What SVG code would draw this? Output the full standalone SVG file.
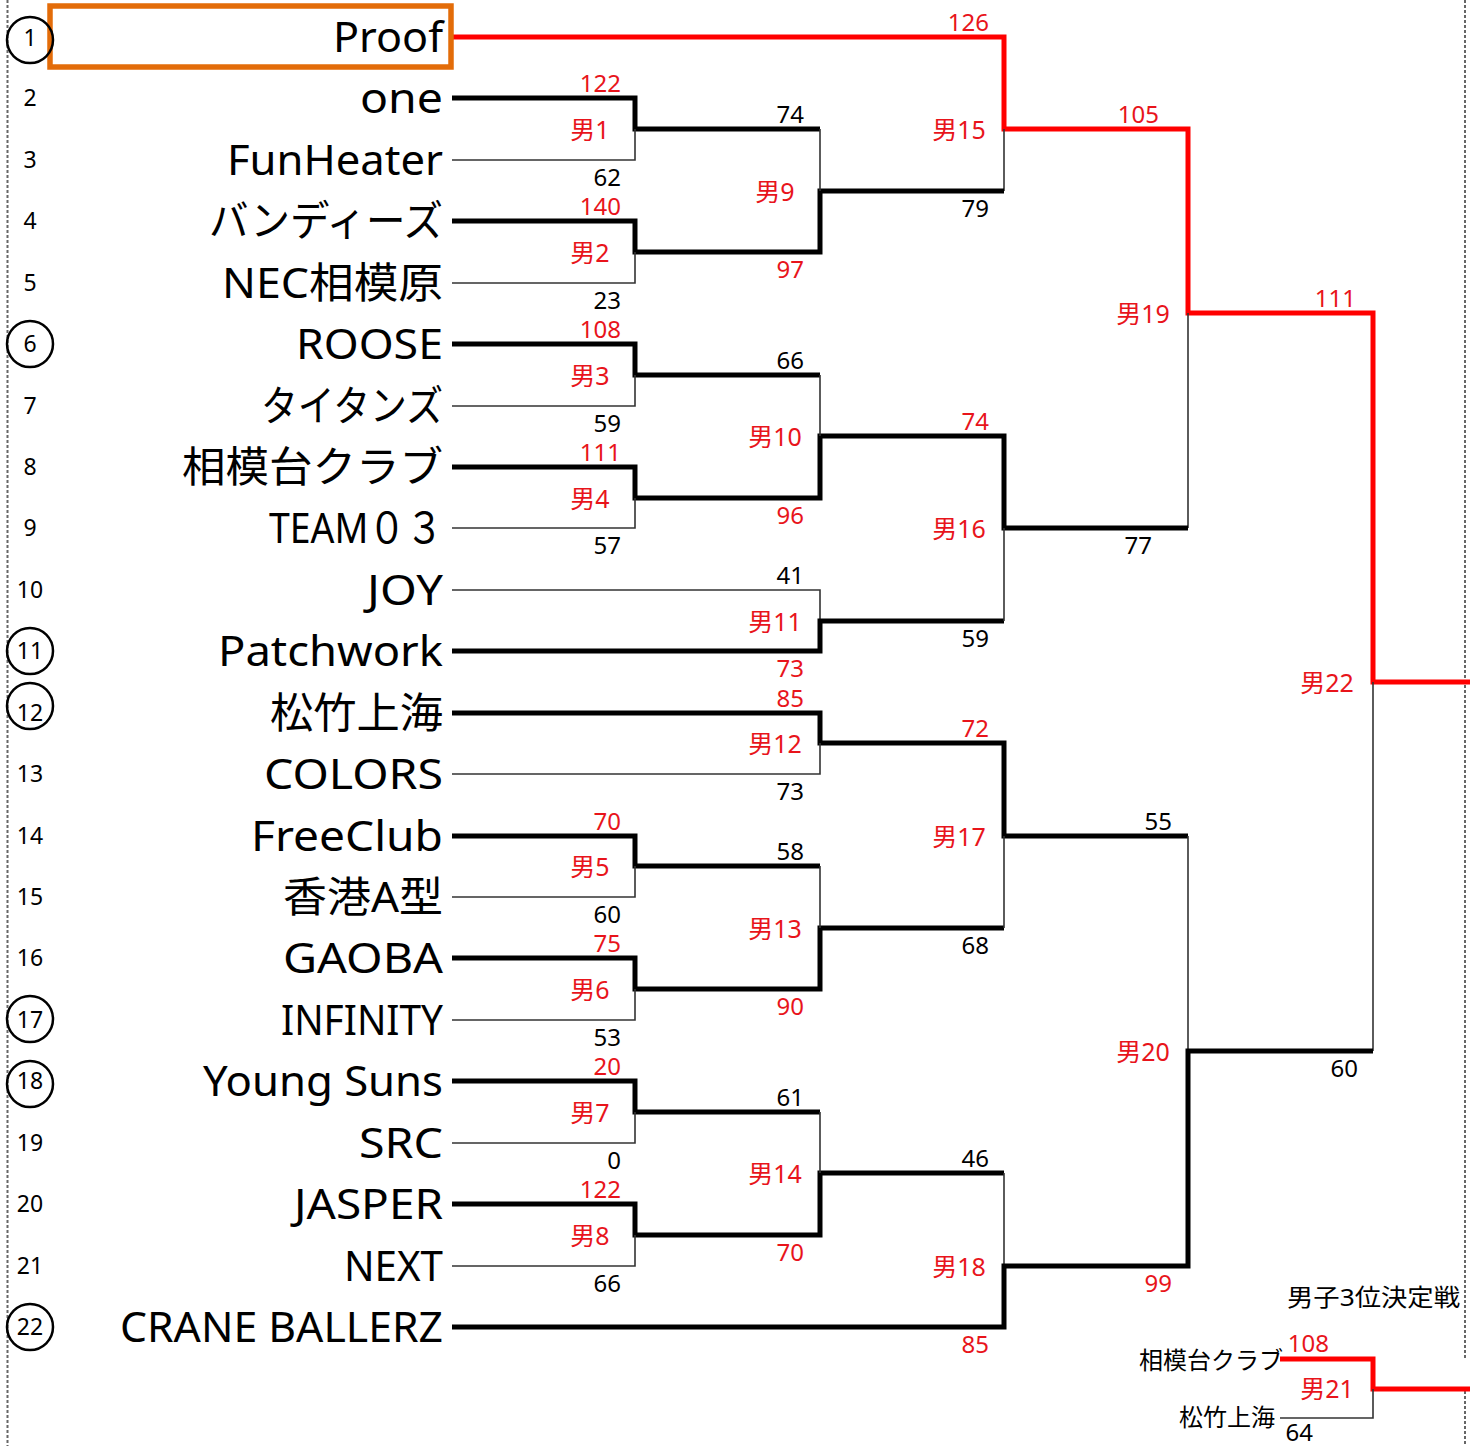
<svg xmlns="http://www.w3.org/2000/svg" width="1478" height="1446" viewBox="0 0 1478 1446">
<style>
text{font-family:"Noto Sans","Noto Sans CJK JP",sans-serif}
.team{font-size:42px;fill:#000;text-anchor:end}
.seed{font-size:23px;fill:#000;text-anchor:middle}
.sc{font-size:24px;text-anchor:end}
.red{fill:#e8141b}
.blk{fill:#000}
.ml{font-size:25px;fill:#e8141b;text-anchor:middle}
.w{fill:none;stroke:#000;stroke-width:5;stroke-linejoin:miter}
.l{fill:none;stroke:#333;stroke-width:1.6}
.r{fill:none;stroke:#ff0000;stroke-width:5;stroke-linejoin:miter}
.ring{fill:none;stroke:#000;stroke-width:2.5}
.border{stroke:#666;stroke-width:2;stroke-dasharray:3 2}
.small{font-size:24px;fill:#000}
</style>
<rect width="1478" height="1446" fill="#fff"/>
<g id="borders">
<line class="border" x1="7.5" y1="0" x2="7.5" y2="1446"/>
<line class="border" x1="1465" y1="0" x2="1465" y2="1358"/>
<line class="border" x1="1465" y1="1391" x2="1465" y2="1446"/>
</g>
<g id="connectors">
<path class="r" d="M452,37 H1004 V129 H1188 V313 H1373 V682 H1470"/>
<path class="l" d="M1004,129 V191"/>
<path class="l" d="M1188,313 V528"/>
<path class="l" d="M1373,682 V1051"/>
<path class="w" d="M452,98 H635 V129 H820"/>
<path class="l" d="M452,160 H635 V129"/>
<path class="w" d="M452,221 H635 V252 H820 V191 H1004"/>
<path class="l" d="M452,283 H635 V252"/>
<path class="l" d="M820,129 V191"/>
<path class="w" d="M452,344 H635 V375 H820"/>
<path class="l" d="M452,406 H635 V375"/>
<path class="w" d="M452,467 H635 V498 H820 V436 H1004 V528 H1188"/>
<path class="l" d="M452,528 H635 V498"/>
<path class="l" d="M820,375 V436"/>
<path class="l" d="M452,590 H820 V621"/>
<path class="w" d="M452,651 H820 V621 H1004"/>
<path class="l" d="M1004,621 V528"/>
<path class="w" d="M452,713 H820 V743 H1004 V836 H1188"/>
<path class="l" d="M452,774 H820 V743"/>
<path class="w" d="M452,836 H635 V866 H820"/>
<path class="l" d="M452,897 H635 V866"/>
<path class="w" d="M452,958 H635 V989 H820 V928 H1004"/>
<path class="l" d="M452,1020 H635 V989"/>
<path class="l" d="M820,866 V928"/>
<path class="l" d="M1004,928 V836"/>
<path class="l" d="M1188,836 V1051"/>
<path class="w" d="M452,1081 H635 V1112 H820"/>
<path class="l" d="M452,1143 H635 V1112"/>
<path class="w" d="M452,1204 H635 V1235 H820 V1173 H1004"/>
<path class="l" d="M452,1266 H635 V1235"/>
<path class="l" d="M820,1112 V1173"/>
<path class="l" d="M1004,1173 V1266"/>
<path class="w" d="M452,1327 H1004 V1266 H1188 V1051 H1373"/>
<path class="r" d="M1280,1359 H1373 V1389 H1470"/>
<path class="l" d="M1280,1418 H1373 V1389"/>
</g>
<g id="team1"><rect x="50" y="6" width="401" height="61" fill="none" stroke="#e36c09" stroke-width="5.5"/><circle class="ring" cx="30" cy="40" r="23"/><text class="seed" x="30" y="46">1</text><text class="team" x="443" y="52" textLength="110" lengthAdjust="spacingAndGlyphs">Proof</text></g>
<g id="team2"><text class="seed" x="30" y="106">2</text><text class="team" x="443" y="113" textLength="83" lengthAdjust="spacingAndGlyphs">one</text></g>
<g id="team3"><text class="seed" x="30" y="168">3</text><text class="team" x="443" y="175" textLength="216" lengthAdjust="spacingAndGlyphs">FunHeater</text></g>
<g id="team4"><text class="seed" x="30" y="229">4</text><text class="team" x="443" y="236" textLength="234" lengthAdjust="spacingAndGlyphs">バンディーズ</text></g>
<g id="team5"><text class="seed" x="30" y="291">5</text><text class="team" x="443" y="298" textLength="221" lengthAdjust="spacingAndGlyphs">NEC相模原</text></g>
<g id="team6"><circle class="ring" cx="30" cy="344" r="23"/><text class="seed" x="30" y="352">6</text><text class="team" x="443" y="359" textLength="147" lengthAdjust="spacingAndGlyphs">ROOSE</text></g>
<g id="team7"><text class="seed" x="30" y="414">7</text><text class="team" x="443" y="421" textLength="182" lengthAdjust="spacingAndGlyphs">タイタンズ</text></g>
<g id="team8"><text class="seed" x="30" y="475">8</text><text class="team" x="443" y="482" textLength="261" lengthAdjust="spacingAndGlyphs">相模台クラブ</text></g>
<g id="team9"><text class="seed" x="30" y="536">9</text><text class="team" x="443" y="543" textLength="174" lengthAdjust="spacingAndGlyphs">TEAM０３</text></g>
<g id="team10"><text class="seed" x="30" y="598">10</text><text class="team" x="443" y="605" textLength="76" lengthAdjust="spacingAndGlyphs">JOY</text></g>
<g id="team11"><circle class="ring" cx="30" cy="651" r="23"/><text class="seed" x="30" y="659">11</text><text class="team" x="443" y="666" textLength="225" lengthAdjust="spacingAndGlyphs">Patchwork</text></g>
<g id="team12"><circle class="ring" cx="30" cy="706" r="23"/><text class="seed" x="30" y="721">12</text><text class="team" x="443" y="728" textLength="173" lengthAdjust="spacingAndGlyphs">松竹上海</text></g>
<g id="team13"><text class="seed" x="30" y="782">13</text><text class="team" x="443" y="789" textLength="179" lengthAdjust="spacingAndGlyphs">COLORS</text></g>
<g id="team14"><text class="seed" x="30" y="844">14</text><text class="team" x="443" y="851" textLength="192" lengthAdjust="spacingAndGlyphs">FreeClub</text></g>
<g id="team15"><text class="seed" x="30" y="905">15</text><text class="team" x="443" y="912" textLength="160" lengthAdjust="spacingAndGlyphs">香港A型</text></g>
<g id="team16"><text class="seed" x="30" y="966">16</text><text class="team" x="443" y="973" textLength="160" lengthAdjust="spacingAndGlyphs">GAOBA</text></g>
<g id="team17"><circle class="ring" cx="30" cy="1019" r="23"/><text class="seed" x="30" y="1028">17</text><text class="team" x="443" y="1035" textLength="162" lengthAdjust="spacingAndGlyphs">INFINITY</text></g>
<g id="team18"><circle class="ring" cx="30" cy="1084" r="23"/><text class="seed" x="30" y="1089">18</text><text class="team" x="443" y="1096" textLength="240" lengthAdjust="spacingAndGlyphs">Young Suns</text></g>
<g id="team19"><text class="seed" x="30" y="1151">19</text><text class="team" x="443" y="1158" textLength="84" lengthAdjust="spacingAndGlyphs">SRC</text></g>
<g id="team20"><text class="seed" x="30" y="1212">20</text><text class="team" x="443" y="1219" textLength="149" lengthAdjust="spacingAndGlyphs">JASPER</text></g>
<g id="team21"><text class="seed" x="30" y="1274">21</text><text class="team" x="443" y="1281" textLength="99" lengthAdjust="spacingAndGlyphs">NEXT</text></g>
<g id="team22"><circle class="ring" cx="30" cy="1327" r="23"/><text class="seed" x="30" y="1335">22</text><text class="team" x="443" y="1342" textLength="323" lengthAdjust="spacingAndGlyphs">CRANE BALLERZ</text></g>
<g id="scores">
<text class="sc red" x="621" y="92">122</text><text class="sc blk" x="621" y="186">62</text>
<text class="sc red" x="621" y="215">140</text><text class="sc blk" x="621" y="309">23</text>
<text class="sc red" x="621" y="338">108</text><text class="sc blk" x="621" y="432">59</text>
<text class="sc red" x="621" y="461">111</text><text class="sc blk" x="621" y="554">57</text>
<text class="sc red" x="621" y="830">70</text><text class="sc blk" x="621" y="923">60</text>
<text class="sc red" x="621" y="952">75</text><text class="sc blk" x="621" y="1046">53</text>
<text class="sc red" x="621" y="1075">20</text><text class="sc blk" x="621" y="1169">0</text>
<text class="sc red" x="621" y="1198">122</text><text class="sc blk" x="621" y="1292">66</text>
<text class="sc blk" x="804" y="123">74</text><text class="sc red" x="804" y="278">97</text>
<text class="sc blk" x="804" y="369">66</text><text class="sc red" x="804" y="524">96</text>
<text class="sc blk" x="804" y="584">41</text><text class="sc red" x="804" y="677">73</text>
<text class="sc red" x="804" y="707">85</text><text class="sc blk" x="804" y="800">73</text>
<text class="sc blk" x="804" y="860">58</text><text class="sc red" x="804" y="1015">90</text>
<text class="sc blk" x="804" y="1106">61</text><text class="sc red" x="804" y="1261">70</text>
<text class="sc red" x="989" y="31">126</text><text class="sc blk" x="989" y="217">79</text>
<text class="sc red" x="989" y="430">74</text><text class="sc blk" x="989" y="647">59</text>
<text class="sc red" x="989" y="737">72</text><text class="sc blk" x="989" y="954">68</text>
<text class="sc blk" x="989" y="1167">46</text><text class="sc red" x="989" y="1353">85</text>
<text class="sc red" x="1159" y="123">105</text><text class="sc blk" x="1152" y="554">77</text>
<text class="sc blk" x="1172" y="830">55</text><text class="sc red" x="1172" y="1292">99</text>
<text class="sc red" x="1356" y="307">111</text><text class="sc blk" x="1358" y="1077">60</text>
</g>
<g id="matches">
<text class="ml" x="590" y="139">男1</text>
<text class="ml" x="590" y="262">男2</text>
<text class="ml" x="590" y="385">男3</text>
<text class="ml" x="590" y="508">男4</text>
<text class="ml" x="590" y="876">男5</text>
<text class="ml" x="590" y="999">男6</text>
<text class="ml" x="590" y="1122">男7</text>
<text class="ml" x="590" y="1245">男8</text>
<text class="ml" x="775" y="201">男9</text>
<text class="ml" x="775" y="446">男10</text>
<text class="ml" x="775" y="631">男11</text>
<text class="ml" x="775" y="753">男12</text>
<text class="ml" x="775" y="938">男13</text>
<text class="ml" x="775" y="1183">男14</text>
<text class="ml" x="959" y="139">男15</text>
<text class="ml" x="959" y="538">男16</text>
<text class="ml" x="959" y="846">男17</text>
<text class="ml" x="959" y="1276">男18</text>
<text class="ml" x="1143" y="323">男19</text>
<text class="ml" x="1143" y="1061">男20</text>
<text class="ml" x="1327" y="692">男22</text>
</g>
<g id="third-place">
<text class="small" x="1287" y="1306" textLength="173" lengthAdjust="spacingAndGlyphs">男子3位決定戦</text>
<text class="small" x="1283" y="1369" text-anchor="end">相模台クラブ</text>
<text class="small" x="1275" y="1426" text-anchor="end">松竹上海</text>
<text class="sc red" x="1329" y="1352">108</text>
<text class="sc blk" x="1313" y="1441">64</text>
<text class="ml" x="1327" y="1398">男21</text>
</g>
</svg>
